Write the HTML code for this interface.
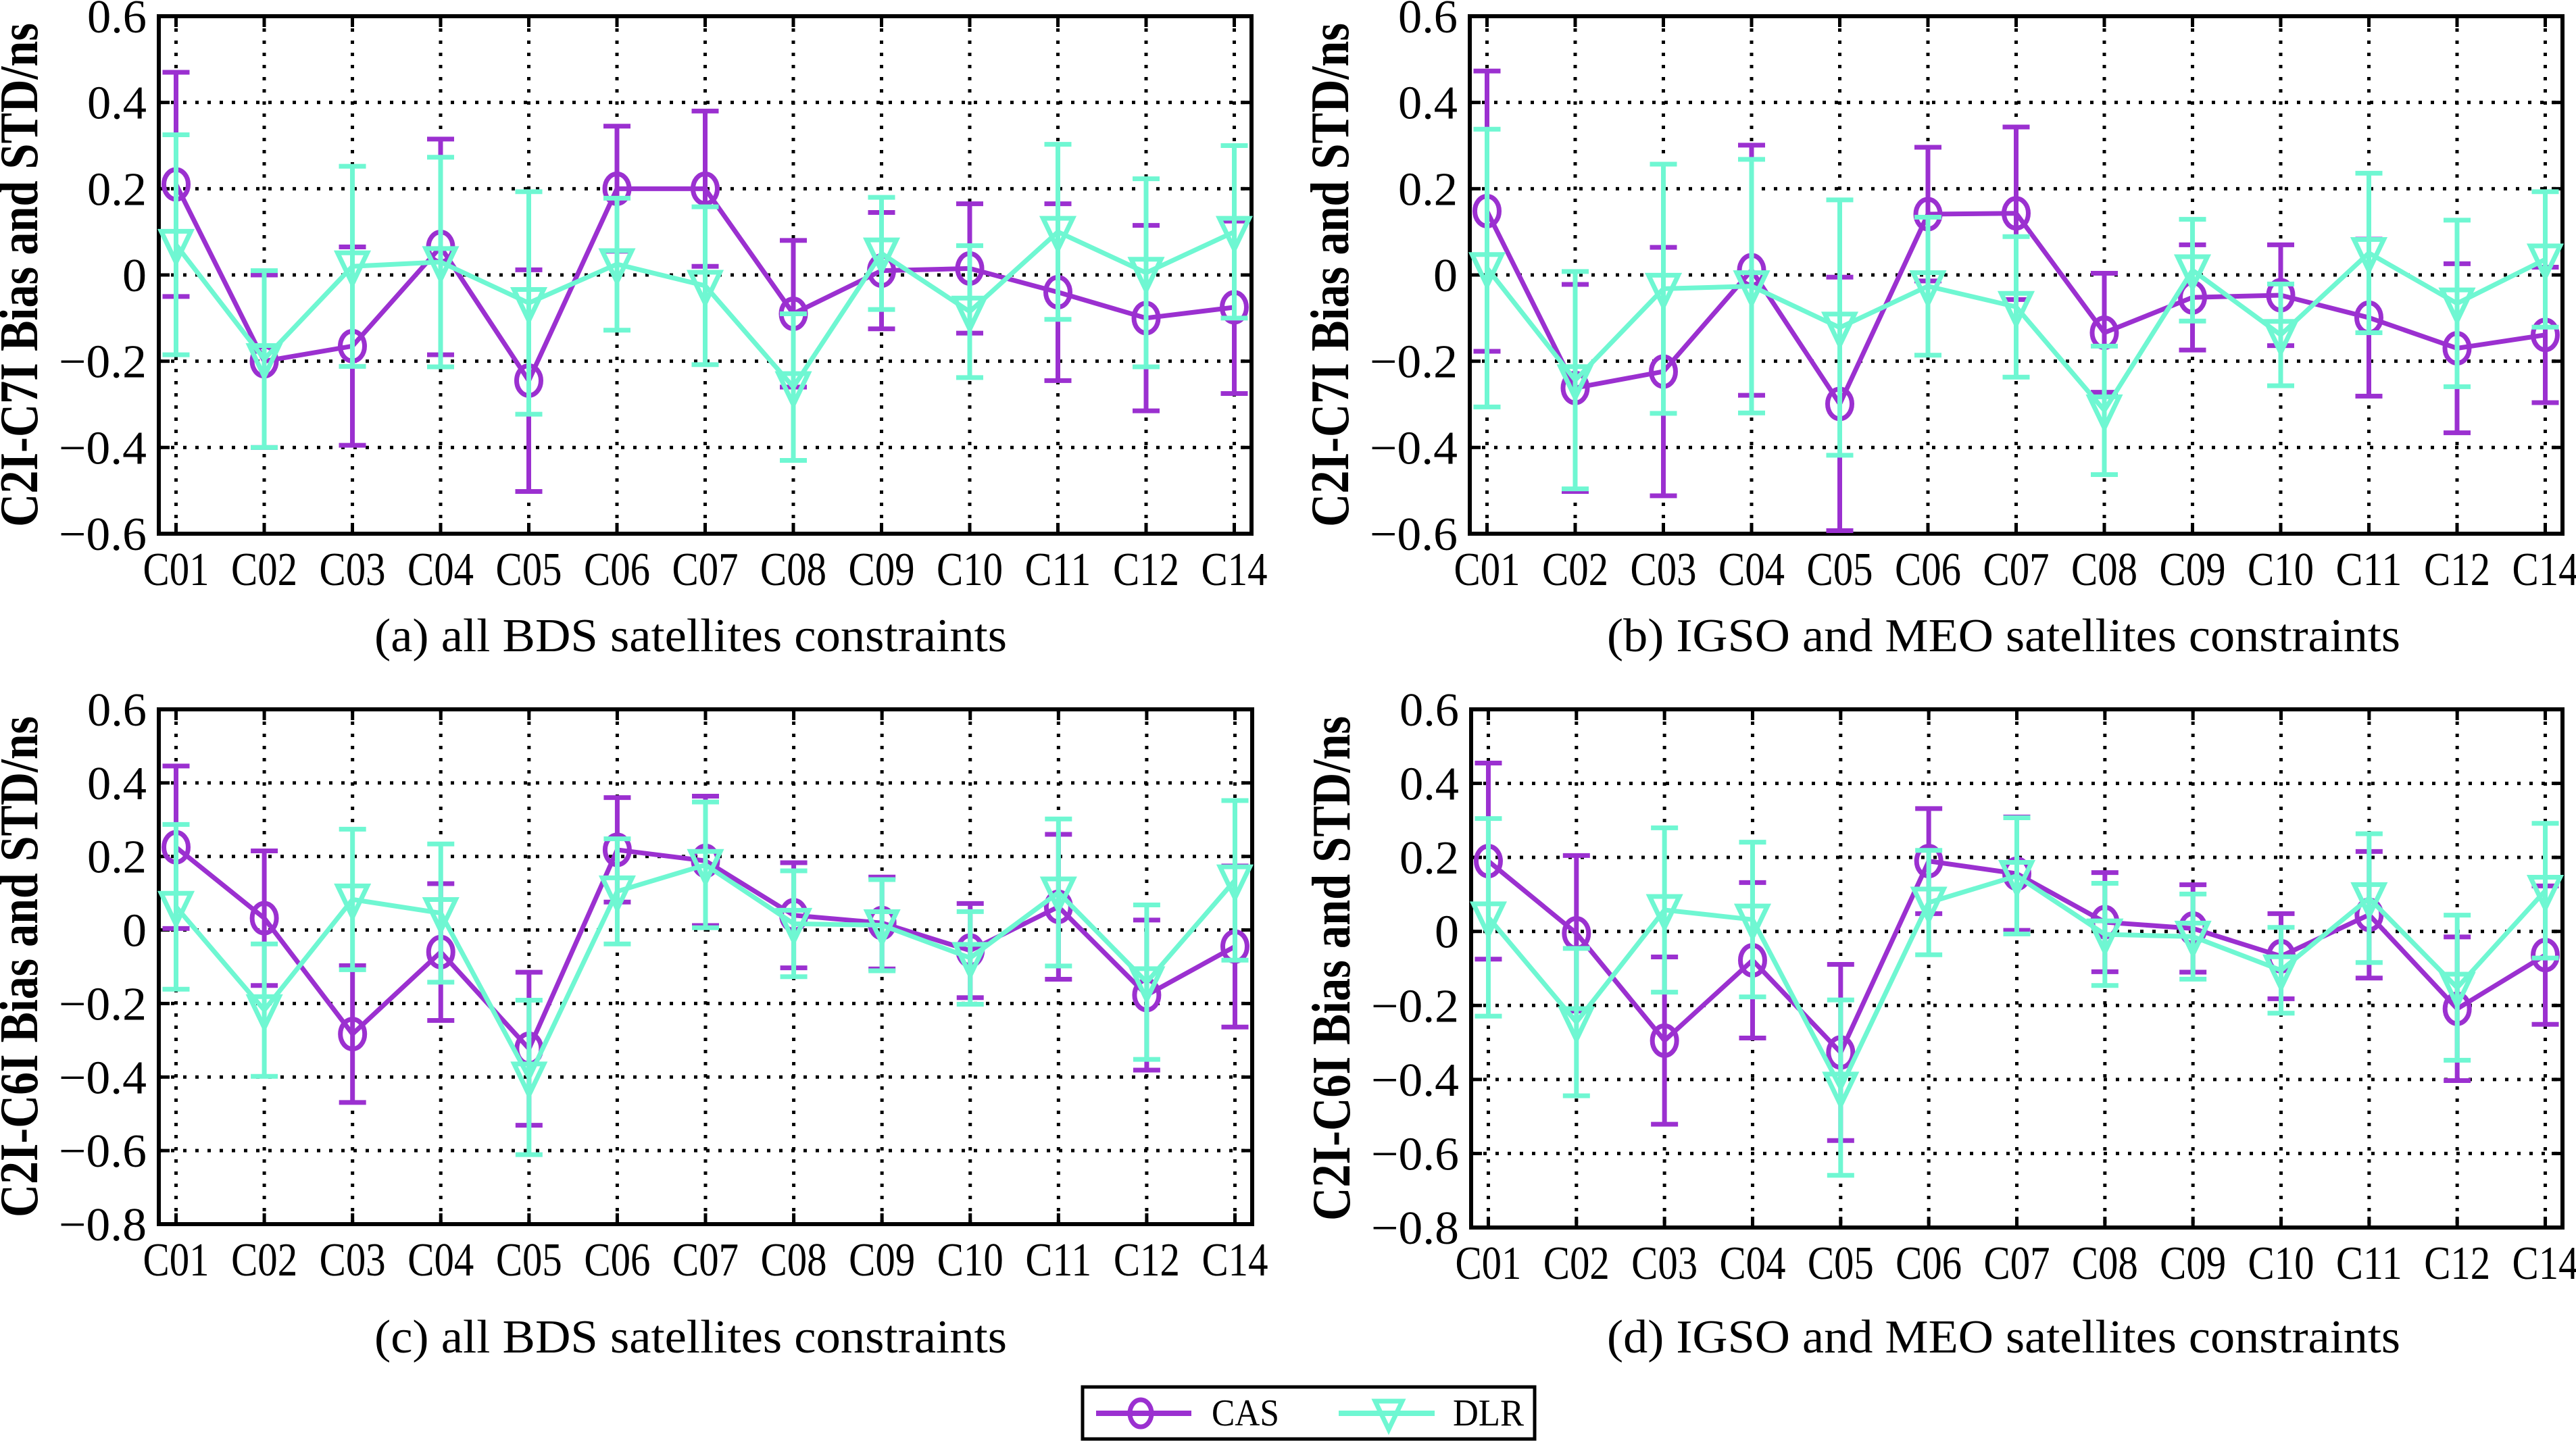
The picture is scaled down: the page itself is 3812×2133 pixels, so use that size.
<!DOCTYPE html>
<html><head><meta charset="utf-8"><style>
html,body{margin:0;padding:0;background:#fff;}
svg{display:block;}
text{font-family:"Liberation Serif",serif;fill:#000;}
</style></head>
<body>
<svg id="chart" width="3812" height="2133" viewBox="0 0 3812 2133" xmlns="http://www.w3.org/2000/svg"></svg>
<script>
const categories = ["C01","C02","C03","C04","C05","C06","C07","C08","C09","C10","C11","C12","C14"];
const ticksTop = [0.6,0.4,0.2,0,-0.2,-0.4,-0.6];
const ticksBottom = [0.6,0.4,0.2,0,-0.2,-0.4,-0.6,-0.8];
// panel (a)
const casMeanA = [0.21,-0.2,-0.165,0.065,-0.245,0.2,0.2,-0.09,0.01,0.015,-0.04,-0.1,-0.075];
const casStdA  = [0.26,0.2,0.23,0.25,0.257,0.145,0.18,0.17,0.135,0.15,0.205,0.215,0.2];
const dlrMeanA = [0.07,-0.195,0.02,0.03,-0.065,0.025,-0.025,-0.26,0.05,-0.085,0.1,0.005,0.1];
const dlrStdA  = [0.255,0.205,0.232,0.243,0.258,0.153,0.183,0.17,0.13,0.153,0.203,0.218,0.2];
// panel (b)
const casMeanB = [0.148,-0.262,-0.224,0.011,-0.299,0.141,0.143,-0.134,-0.052,-0.047,-0.099,-0.17,-0.139];
const casStdB  = [0.325,0.24,0.288,0.29,0.294,0.155,0.2,0.138,0.122,0.117,0.182,0.196,0.157];
const dlrMeanB = [0.016,-0.244,-0.032,-0.026,-0.122,-0.026,-0.074,-0.314,0.011,-0.139,0.051,-0.066,0.036];
const dlrStdB  = [0.322,0.252,0.289,0.294,0.296,0.16,0.163,0.149,0.118,0.118,0.185,0.193,0.157];
// panel (c)
const casMeanC = [0.225,0.032,-0.283,-0.06,-0.323,0.218,0.188,0.04,0.019,-0.056,0.063,-0.177,-0.045];
const casStdC  = [0.221,0.183,0.186,0.186,0.208,0.142,0.176,0.143,0.125,0.128,0.197,0.204,0.219];
const dlrMeanC = [0.063,-0.218,0.083,0.046,-0.401,0.105,0.177,0.017,0.013,-0.076,0.102,-0.142,0.135];
const dlrStdC  = [0.224,0.18,0.191,0.188,0.21,0.143,0.171,0.144,0.124,0.126,0.2,0.21,0.217];
// panel (d)
const casMeanD = [0.19,-0.005,-0.295,-0.078,-0.327,0.19,0.156,0.025,0.008,-0.067,0.045,-0.209,-0.064];
const casStdD  = [0.265,0.21,0.226,0.21,0.238,0.142,0.153,0.134,0.118,0.115,0.171,0.194,0.187];
const dlrMeanD = [0.038,-0.245,0.058,0.032,-0.422,0.078,0.15,-0.008,-0.014,-0.105,0.09,-0.152,0.11];
const dlrStdD  = [0.267,0.199,0.222,0.209,0.237,0.141,0.157,0.138,0.115,0.116,0.174,0.196,0.182];

const NS = "http://www.w3.org/2000/svg";
const svg = document.getElementById("chart");
const CAS_COLOR = "#9b30d0", DLR_COLOR = "#6ff7d2";
const SERIF = '"Liberation Serif", serif';

function mk(tag, attrs, parent){
  const e = document.createElementNS(NS, tag);
  for (const k in attrs) e.setAttribute(k, attrs[k]);
  if (tag === "text") e.setAttribute("font-family", SERIF);
  (parent||svg).appendChild(e);
  return e;
}

const panels = [
  {id:"a", left:235, right:1852, top:24, bottom:790, ymin:-0.6, ymax:0.6, ticks:ticksTop, ylabel:"C2I-C7I Bias and STD/ns", caption:"(a) all BDS satellites constraints", capX:1022, capY:964, capLen:936, cm:casMeanA, cs:casStdA, dm:dlrMeanA, ds:dlrStdA},
  {id:"b", left:2175, right:3792, top:24, bottom:790, ymin:-0.6, ymax:0.6, ticks:ticksTop, ylabel:"C2I-C7I Bias and STD/ns", caption:"(b) IGSO and MEO satellites constraints", capX:2965, capY:964, capLen:1174, cm:casMeanB, cs:casStdB, dm:dlrMeanB, ds:dlrStdB},
  {id:"c", left:235, right:1853, top:1050, bottom:1812, ymin:-0.8, ymax:0.6, ticks:ticksBottom, ylabel:"C2I-C6I Bias and STD/ns", caption:"(c) all BDS satellites constraints", capX:1022, capY:2002, capLen:936, cm:casMeanC, cs:casStdC, dm:dlrMeanC, ds:dlrStdC},
  {id:"d", left:2177, right:3792, top:1050, bottom:1817, ymin:-0.8, ymax:0.6, ticks:ticksBottom, ylabel:"C2I-C6I Bias and STD/ns", caption:"(d) IGSO and MEO satellites constraints", capX:2965, capY:2002, capLen:1174, cm:casMeanD, cs:casStdD, dm:dlrMeanD, ds:dlrStdD}
];

panels.forEach(p => {
  const g = mk("g", {});
  
  
  const w = p.right - p.left;
  const pad = 25.5 * w / 1617;
  const step = (w - 2*pad) / (categories.length - 1);
  const xS = i => p.left + pad + i*step;
  const yS = v => p.top + (p.ymax - v) / (p.ymax - p.ymin) * (p.bottom - p.top);

  p.ticks.forEach(t => {
    const y = yS(t);
    if (t !== p.ymax && t !== p.ymin) {
      const gl = mk("line", {x1:p.left, x2:p.right, y1:y, y2:y, stroke:"#000", "stroke-width":5, "stroke-dasharray":"5 13"}, g);
      
      
      mk("line", {x1:p.left, x2:p.left+16, y1:y, y2:y, stroke:"#000", "stroke-width":5}, g);
      mk("line", {x1:p.right-16, x2:p.right, y1:y, y2:y, stroke:"#000", "stroke-width":5}, g);
    }
    const lbl = (t < 0 ? "\u2212" + Math.abs(t) : String(t));
    const tl = mk("text", {x:p.left-18, y:y+24, "text-anchor":"end", "font-size":70, textLength:(t<0?130:(t===0?36:88)), lengthAdjust:"spacingAndGlyphs"}, g);
    tl.textContent = lbl;
    
    
  });
  categories.forEach((c, i) => {
    const x = xS(i);
    const vl = mk("line", {x1:x, x2:x, y1:p.top, y2:p.bottom, stroke:"#000", "stroke-width":5, "stroke-dasharray":"5 13"}, g);
    
    
    mk("line", {x1:x, x2:x, y1:p.bottom-16, y2:p.bottom, stroke:"#000", "stroke-width":5}, g);
    mk("line", {x1:x, x2:x, y1:p.top, y2:p.top+16, stroke:"#000", "stroke-width":5}, g);
    const xl = mk("text", {x:x, y:p.bottom+76, "text-anchor":"middle", "font-size":70, textLength:98, lengthAdjust:"spacingAndGlyphs"}, g);
    xl.textContent = c;
    
    
  });

  const fr = mk("rect", {x:p.left, y:p.top, width:w, height:p.bottom-p.top, fill:"none", stroke:"#000", "stroke-width":6}, g);
  
  

  const cy = (p.top + p.bottom)/2;
  const yl = mk("text", {x:0, y:0, "text-anchor":"middle", "font-size":80, "font-weight":"bold", textLength:(p.bottom-p.top-20), lengthAdjust:"spacingAndGlyphs"}, g);
  yl.setAttribute("transform", "translate(" + (p.left - 180) + "," + cy + ") rotate(-90)");
  yl.textContent = p.ylabel;
  
  

  const cp = mk("text", {x:p.capX, y:p.capY, "text-anchor":"middle", "font-size":70, textLength:p.capLen, lengthAdjust:"spacingAndGlyphs"}, g);
  cp.textContent = p.caption;
  
  

  const series = [
    {name:"cas", mean:p.cm, std:p.cs, color:CAS_COLOR, marker:"circle"},
    {name:"dlr", mean:p.dm, std:p.ds, color:DLR_COLOR, marker:"triangle"}
  ];
  series.forEach(s => {
    const sg = mk("g", {}, g);
    
    
    s.mean.forEach((m, i) => {
      const x = xS(i), y1 = yS(m + s.std[i]), y2 = yS(m - s.std[i]);
      const eb = mk("path", {d:"M"+x+","+y1+"V"+y2+"M"+(x-20)+","+y1+"H"+(x+20)+"M"+(x-20)+","+y2+"H"+(x+20), stroke:s.color, "stroke-width":7, fill:"none"}, sg);
      
      
    });
    const pts = s.mean.map((m, i) => xS(i) + "," + yS(m)).join(" ");
    const pl = mk("polyline", {points:pts, fill:"none", stroke:s.color, "stroke-width":7, "stroke-linejoin":"round"}, sg);
    
    
    s.mean.forEach((m, i) => {
      const x = xS(i), y = yS(m);
      let mkr;
      if (s.marker === "circle") {
        mkr = mk("ellipse", {cx:x, cy:y, rx:18, ry:22, fill:"none", stroke:s.color, "stroke-width":7}, sg);
      } else {
        mkr = mk("path", {d:"M"+(x-22)+","+(y-20)+"L"+(x+22)+","+(y-20)+"L"+x+","+(y+26)+"Z", fill:"none", stroke:s.color, "stroke-width":7}, sg);
      }
      
      
    });
  });
});

const lg = mk("g", {});


mk("rect", {x:1602, y:2053, width:669, height:77, fill:"#fff", stroke:"#000", "stroke-width":5}, lg);
const e1 = mk("g", {}, lg);


mk("line", {x1:1622, x2:1763, y1:2092, y2:2092, stroke:CAS_COLOR, "stroke-width":8}, e1);
mk("ellipse", {cx:1688, cy:2092, rx:16, ry:20, fill:"none", stroke:CAS_COLOR, "stroke-width":7}, e1);
const t1 = mk("text", {x:1793, y:2110, "font-size":56, textLength:100, lengthAdjust:"spacingAndGlyphs"}, e1);
t1.textContent = "CAS";
const e2 = mk("g", {}, lg);


mk("line", {x1:1981, x2:2123, y1:2092, y2:2092, stroke:DLR_COLOR, "stroke-width":8}, e2);
mk("path", {d:"M2035,2074L2075,2074L2055,2116Z", fill:"none", stroke:DLR_COLOR, "stroke-width":7}, e2);
const t2 = mk("text", {x:2150, y:2110, "font-size":56, textLength:105, lengthAdjust:"spacingAndGlyphs"}, e2);
t2.textContent = "DLR";
</script>
</body></html>
